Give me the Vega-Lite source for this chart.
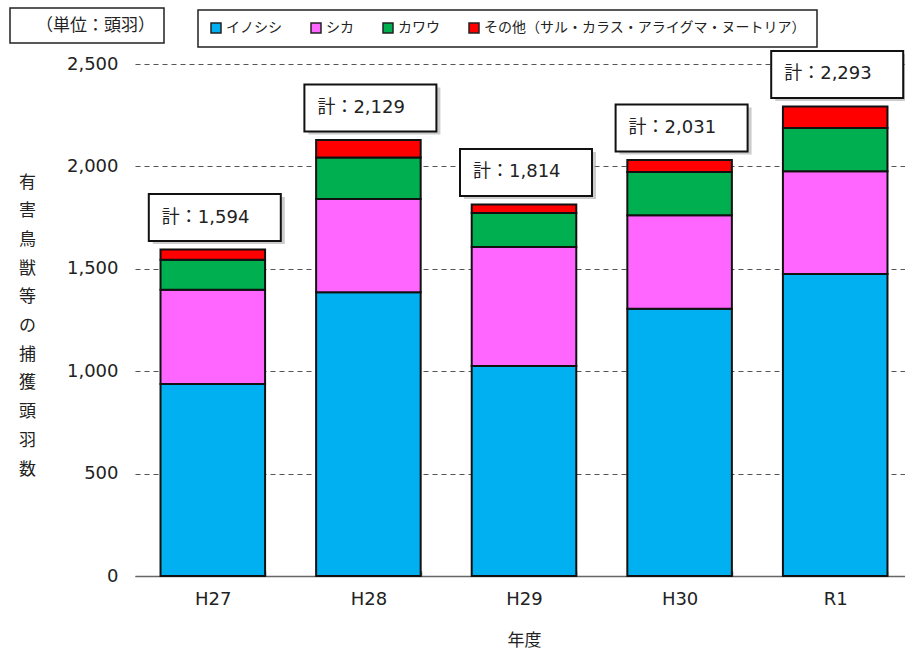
{
  "$schema": "https://vega.github.io/schema/vega-lite/v6.json",
  "width": 770,
  "height": 512,
  "autosize": {"type": "none"},
  "padding": {"left": 135, "top": 64, "right": 0, "bottom": 77},
  "background": "white",
  "config": {
    "font": "DejaVu Sans, Noto Sans CJK JP, sans-serif",
    "view": {"stroke": null},
    "legend": {"strokeWidth": 1.5}
  },
  "data": {
    "values": [
      {"year": "H27", "species": "イノシシ", "k": 1, "count": 938},
      {"year": "H27", "species": "シカ", "k": 2, "count": 460},
      {"year": "H27", "species": "カワウ", "k": 3, "count": 146},
      {"year": "H27", "species": "その他（サル・カラス・アライグマ・ヌートリア）", "k": 4, "count": 50},
      {"year": "H28", "species": "イノシシ", "k": 1, "count": 1385},
      {"year": "H28", "species": "シカ", "k": 2, "count": 456},
      {"year": "H28", "species": "カワウ", "k": 3, "count": 202},
      {"year": "H28", "species": "その他（サル・カラス・アライグマ・ヌートリア）", "k": 4, "count": 86},
      {"year": "H29", "species": "イノシシ", "k": 1, "count": 1026},
      {"year": "H29", "species": "シカ", "k": 2, "count": 581},
      {"year": "H29", "species": "カワウ", "k": 3, "count": 166},
      {"year": "H29", "species": "その他（サル・カラス・アライグマ・ヌートリア）", "k": 4, "count": 41},
      {"year": "H30", "species": "イノシシ", "k": 1, "count": 1305},
      {"year": "H30", "species": "シカ", "k": 2, "count": 456},
      {"year": "H30", "species": "カワウ", "k": 3, "count": 212},
      {"year": "H30", "species": "その他（サル・カラス・アライグマ・ヌートリア）", "k": 4, "count": 58},
      {"year": "R1", "species": "イノシシ", "k": 1, "count": 1475},
      {"year": "R1", "species": "シカ", "k": 2, "count": 501},
      {"year": "R1", "species": "カワウ", "k": 3, "count": 212},
      {"year": "R1", "species": "その他（サル・カラス・アライグマ・ヌートリア）", "k": 4, "count": 105}
    ]
  },
  "encoding": {
    "x": {
      "field": "year",
      "type": "nominal",
      "sort": ["H27", "H28", "H29", "H30", "R1"],
      "scale": {"range": [0, 778], "paddingInner": 0.328, "paddingOuter": 0.164},
      "axis": {
        "title": "年度",
        "titleFont": "Noto Sans CJK JP",
        "titleFontSize": 17,
        "titleFontWeight": "normal",
        "titleColor": "#222",
        "titleBaseline": "middle",
        "titleY": 64,
        "labelAngle": 0,
        "labelFontSize": 18,
        "labelColor": "#222",
        "labelPadding": 19,
        "domainColor": "#666",
        "domainWidth": 1.5,
        "tickColor": "#666",
        "tickWidth": 1.5,
        "tickSize": -5,
        "tickBand": "extent"
      }
    }
  },
  "layer": [
    {
      "mark": {"type": "bar", "stroke": "#111", "strokeWidth": 2},
      "encoding": {
        "y": {
          "aggregate": "sum",
          "field": "count",
          "type": "quantitative",
          "stack": "zero",
          "scale": {"domain": [0, 2500], "nice": false},
          "axis": {
            "title": ["有", "害", "鳥", "獣", "等", "の", "捕", "獲", "頭", "羽", "数"],
            "titleFont": "Noto Sans CJK JP",
            "titleFontSize": 17,
            "titleFontWeight": "normal",
            "titleColor": "#222",
            "titleAngle": 0,
            "titleAlign": "center",
            "titleBaseline": "top",
            "titleLineHeight": 28.7,
            "titleX": -108,
            "titleY": 110,
            "values": [0, 500, 1000, 1500, 2000, 2500],
            "format": ",d",
            "labelFontSize": 18,
            "labelColor": "#222",
            "labelPadding": 17,
            "domain": false,
            "ticks": false,
            "grid": true,
            "gridColor": "#555",
            "gridDash": [5, 4],
            "gridWidth": 1
          }
        },
        "color": {
          "field": "species",
          "type": "nominal",
          "sort": ["イノシシ", "シカ", "カワウ", "その他（サル・カラス・アライグマ・ヌートリア）"],
          "scale": {
            "domain": ["イノシシ", "シカ", "カワウ", "その他（サル・カラス・アライグマ・ヌートリア）"],
            "range": ["#00B0F0", "#FF66FF", "#00B050", "#FF0000"]
          },
          "legend": {
            "orient": "none",
            "legendX": 63,
            "legendY": -54,
            "direction": "horizontal",
            "title": null,
            "symbolType": "square",
            "symbolSize": 100,
            "symbolStrokeColor": "#222",
            "symbolStrokeWidth": 1.5,
            "labelFont": "Noto Sans CJK JP",
            "labelFontSize": 14,
            "labelColor": "#222",
            "labelOffset": 3,
            "labelLimit": 400,
            "columnPadding": 26,
            "padding": 11,
            "strokeColor": "#222",
            "fillColor": "white"
          }
        },
        "order": {"field": "k", "type": "quantitative", "sort": "ascending"}
      }
    },
    {
      "transform": [{"aggregate": [{"op": "sum", "field": "count", "as": "total"}], "groupby": ["year"]}],
      "mark": {
        "type": "point",
        "shape": "M-1,-0.356L1,-0.356L1,0.356L-1,0.356Z",
        "size": 17424,
        "filled": true,
        "fill": "#999",
        "opacity": 0.5,
        "strokeWidth": 0,
        "xOffset": 6,
        "yOffset": -29
      },
      "encoding": {"y": {"field": "total", "type": "quantitative"}}
    },
    {
      "transform": [{"aggregate": [{"op": "sum", "field": "count", "as": "total"}], "groupby": ["year"]}],
      "mark": {
        "type": "point",
        "size": 17424,
        "filled": true,
        "fill": "white",
        "opacity": 1,
        "stroke": "#111",
        "strokeWidth": 2,
        "xOffset": 2,
        "yOffset": -32
      },
      "encoding": {
        "y": {"field": "total", "type": "quantitative"},
        "shape": {
          "datum": "（単位：頭羽）",
          "type": "nominal",
          "scale": {"range": ["M-1,-0.356L1,-0.356L1,0.356L-1,0.356Z"]},
          "legend": {
            "orient": "none",
            "legendX": -125,
            "legendY": -56,
            "title": null,
            "symbolSize": 0,
            "symbolOpacity": 0,
            "symbolStrokeWidth": 0,
            "labelOffset": 0,
            "labelFont": "Noto Sans CJK JP",
            "labelFontSize": 17,
            "labelColor": "#222",
            "padding": 9,
            "strokeColor": "#222",
            "fillColor": "white"
          }
        }
      }
    },
    {
      "transform": [{"aggregate": [{"op": "sum", "field": "count", "as": "total"}], "groupby": ["year"]}],
      "mark": {
        "type": "text",
        "align": "left",
        "baseline": "middle",
        "dx": -51,
        "dy": -32,
        "fontSize": 18,
        "color": "#222",
        "text": {"expr": "'計：' + format(datum.total, ',')"}
      },
      "encoding": {"y": {"field": "total", "type": "quantitative"}}
    }
  ]
}
